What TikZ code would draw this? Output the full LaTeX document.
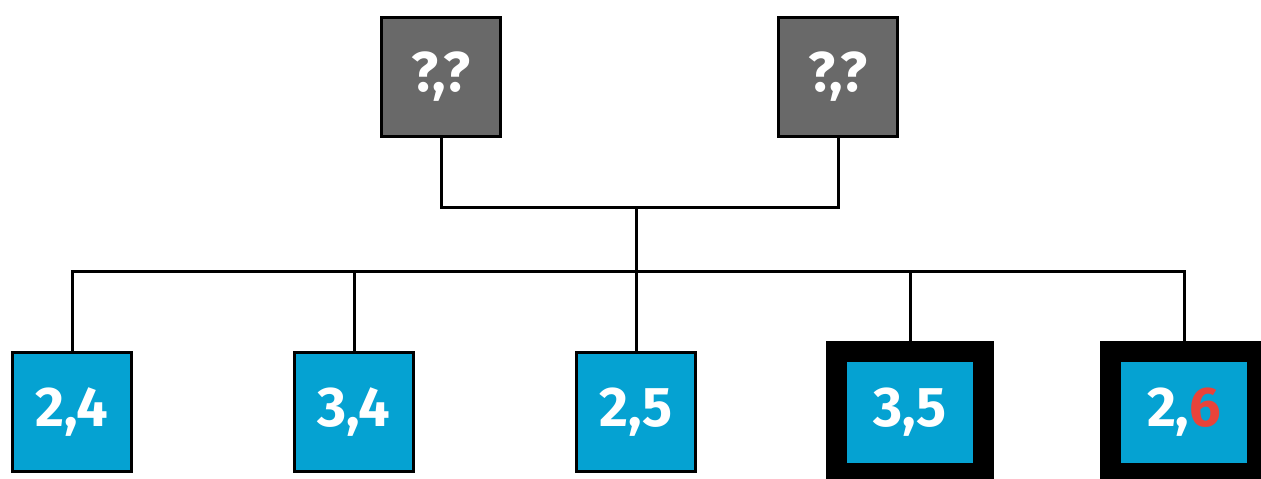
\documentclass[tikz,border=0pt]{standalone}
\usepackage{fontspec}
\setmainfont{Fira Sans}
\definecolor{boxgray}{HTML}{696969}
\definecolor{boxblue}{HTML}{05A2D2}
\definecolor{numred}{HTML}{E8433A}
\begin{document}
\begin{tikzpicture}[x=1pt,y=-1pt,
  lbl/.style={font=\fontsize{56}{60}\selectfont\bfseries, text=white, inner sep=0pt},
  graybox/.style={lbl, rectangle, fill=boxgray, draw=black, line width=3pt, minimum size=119pt},
  bluebox/.style={lbl, rectangle, fill=boxblue, draw=black, line width=3pt, minimum size=119pt},
  thickbox/.style={lbl, rectangle, fill=boxblue, draw=black, line width=21pt, minimum width=147pt, minimum height=122pt},
  conn/.style={draw=black, line width=3pt}]
\useasboundingbox (0,0) rectangle (1261,479);
\node[graybox] (q1) at (441,76.5) {?,?};
\node[graybox] (q2) at (838,76.5) {?,?};
\node[bluebox] (b1) at (72,412) {2,4};
\node[bluebox] (b2) at (354,412) {3,4};
\node[bluebox] (b3) at (636,412) {2,5};
\node[thickbox] (b4) at (910,412.5) {3,5};
\node[thickbox] (b5) at (1184,412.5) {2,\textcolor{numred}{6}};
\coordinate (j1) at (636,207);
\coordinate (j2) at (636,271);
\begin{scope}[on background layer/.style={}]
\draw[conn] (q1.south) |- (j1) -| (q2.south);
\draw[conn] (j1) -- (b3.north);
\draw[conn] (b1.north) |- (j2) -| (b5.north);
\draw[conn] (b2.north) -- (b2.north |- j2);
\draw[conn] (b4.north) -- (b4.north |- j2);
\end{scope}
\end{tikzpicture}
\end{document}
